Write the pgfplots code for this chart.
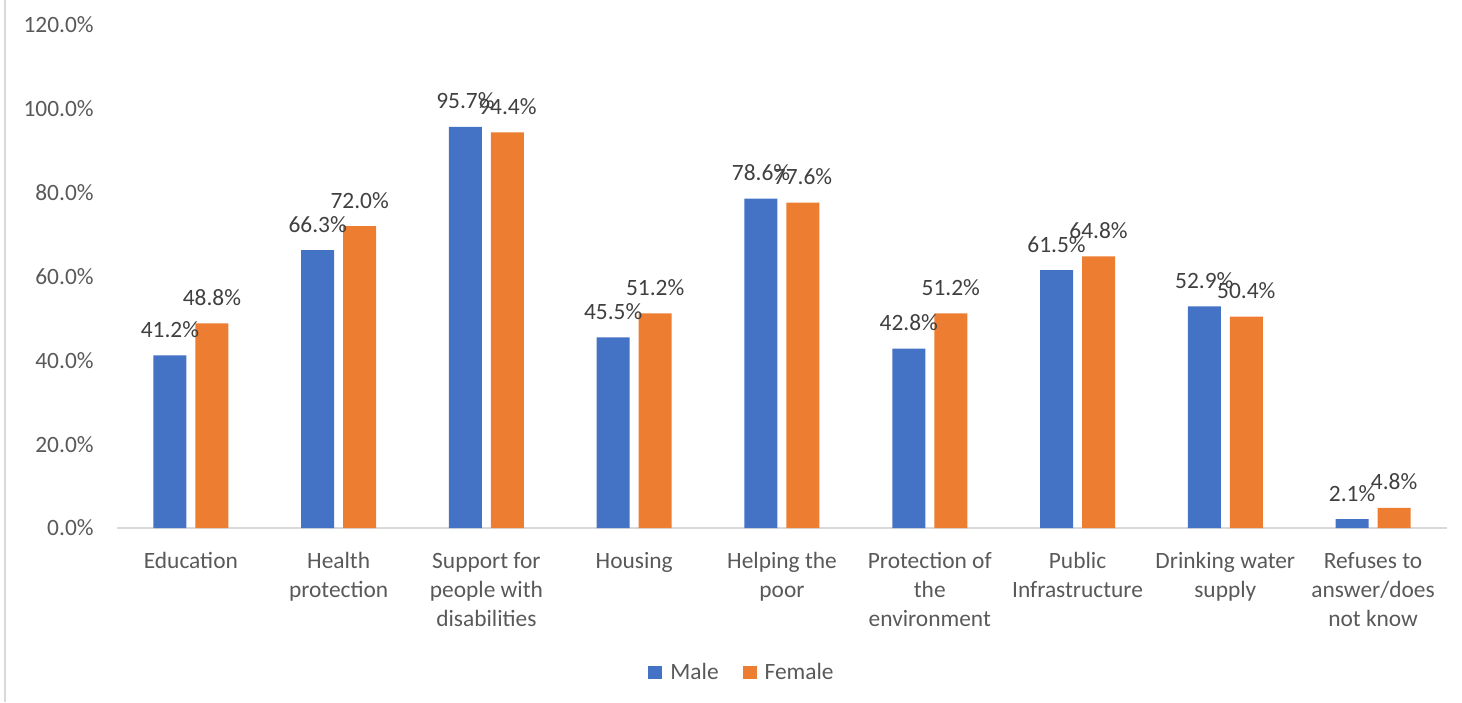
\documentclass[border=0pt]{standalone}
\usepackage{pgfplots}
\pgfplotsset{compat=1.18}
\usepackage{fontspec}
\setmainfont{Carlito}
\definecolor{mblue}{HTML}{4472C4}
\definecolor{morange}{HTML}{ED7D31}
\definecolor{tickgray}{HTML}{595959}
\definecolor{labgray}{HTML}{404040}
\definecolor{linegray}{HTML}{D9D9D9}
\newcommand{\cfont}{\fontsize{11.7}{14.5}\selectfont}
\begin{document}
\begin{tikzpicture}
\path[use as bounding box] (-58.5pt,-87pt) rectangle (672.5pt,264pt);
\draw[linegray, line width=0.9pt] (-56pt,-87pt) -- (-56pt,264pt);
\begin{axis}[
  at={(0pt,0pt)}, anchor=south west,
  scale only axis, width=665pt, height=251.5pt,
  xmin=-0.5, xmax=8.5, ymin=0, ymax=120,
  ybar=4.5pt, bar width=16.5pt,
  /pgf/number format/assume math mode=true,
  ytick={0,20,...,120},
  xtick={0,...,8},
  xticklabels={Education, {Health\\protection}, {Support for\\people with\\disabilities}, Housing, {Helping the\\poor}, {Protection of\\the\\environment}, {Public\\Infrastructure}, {Drinking water\\supply}, {Refuses to\\answer/does\\not know}},
  yticklabel={\pgfmathprintnumber[fixed,fixed zerofill,precision=1]{\tick}\%},
  xticklabel style={font=\cfont, text=tickgray, align=center, anchor=north, inner sep=0pt, yshift=-7.9pt},
  yticklabel style={font=\cfont, text=tickgray, anchor=east, inner sep=0pt, xshift=-11.5pt},
  tick style={draw=none},
  axis x line*=bottom, axis y line*=left,
  x axis line style={draw=linegray, line width=0.75pt, -},
  y axis line style={draw=none},
  clip=false,
  nodes near coords={\pgfmathprintnumber[fixed,fixed zerofill,precision=1]{\pgfplotspointmeta}\%},
  every node near coord/.append style={font=\cfont, text=labgray, anchor=base, inner sep=0pt, yshift=9pt},
  legend style={draw=none, fill=none, font=\cfont, text=tickgray, legend columns=2, at={(0.4707,-0.288)}, anchor=center,
    /tikz/every odd column/.append style={column sep=2pt},
    /tikz/every even column/.append style={column sep=10pt}},
  legend image code/.code={\fill[#1] (0pt,-3.3pt) rectangle (7pt,3.3pt);},
]
\addplot[fill=mblue, draw=none] coordinates {(0,41.2) (1,66.3) (2,95.7) (3,45.5) (4,78.6) (5,42.8) (6,61.5) (7,52.9) (8,2.1)};
\addplot[fill=morange, draw=none] coordinates {(0,48.8) (1,72.0) (2,94.4) (3,51.2) (4,77.6) (5,51.2) (6,64.8) (7,50.4) (8,4.8)};
\legend{Male, Female}
\end{axis}
\end{tikzpicture}
\end{document}
